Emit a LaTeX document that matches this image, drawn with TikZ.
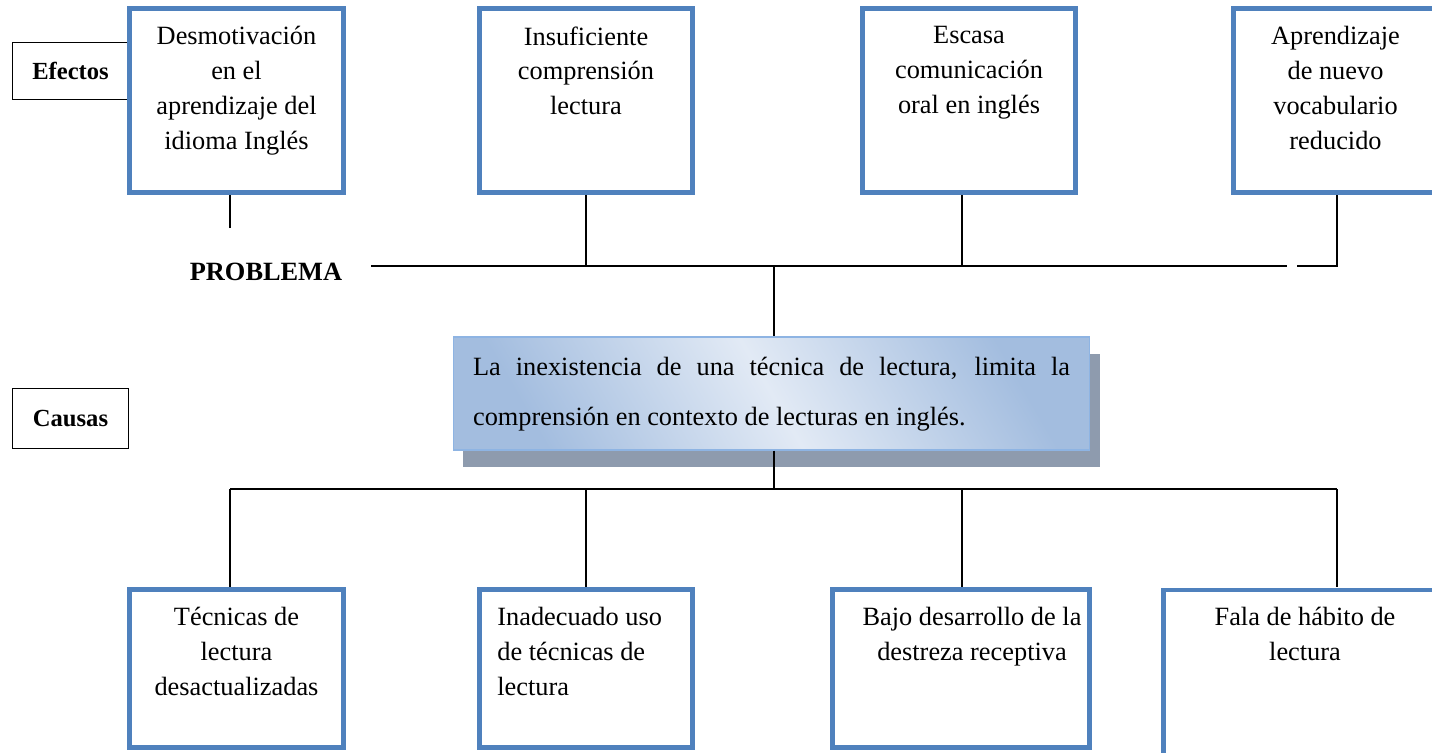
\documentclass[tikz,border=0pt]{standalone}
\usepackage{fontspec}
\setmainfont{Liberation Serif}
\usetikzlibrary{positioning,calc,shadows}

\definecolor{boxblue}{HTML}{4F81BD}
\definecolor{gradblue}{HTML}{A3BDDF}
\definecolor{gradlight}{HTML}{E2EAF5}
\definecolor{shadowgray}{HTML}{8E9BAE}
\definecolor{rimblue}{HTML}{8EB4E3}

\tikzset{
  bluebox/.style={draw=boxblue, line width=2.8pt, minimum width=4.28cm, minimum height=3.68cm, inner sep=0pt},
  causebox/.style={bluebox, minimum height=3.16cm},
  boxtext/.style={anchor=north, align=center, inner sep=0pt, yshift=-11.5pt, font=\fontsize{15}{19.8}\selectfont},
  tagbox/.style={draw, line width=0.8pt, minimum width=2.32cm, minimum height=1.14cm, font=\fontsize{14}{16}\selectfont\bfseries},
  link/.style={line width=0.6pt}
}

\begin{document}
\begin{tikzpicture}[x=0.02cm, y=-0.02cm]
  \useasboundingbox (0,0) rectangle (1432,753);
  \clip (0,0) rectangle (1432,753);

  % efectos
  \node[tagbox] (efectos) at (70.5,71) {Efectos};
  \node[bluebox] (ef1) at (236.5,100.5) {};
  \node[bluebox, minimum width=4.26cm] (ef2) at (586,100.5) {};
  \node[bluebox, minimum width=4.26cm] (ef3) at (969,100.5) {};
  \node[bluebox, minimum width=4.08cm] (ef4) at (1335.5,100.5) {};
  \node[boxtext] (t1) at (ef1.north) {Desmotivación\\en el\\aprendizaje del\\idioma Inglés};
  \node[boxtext] (t2) at (ef2.north) {Insuficiente\\comprensión\\lectura};
  \node[boxtext] (t3) at (ef3.north) {Escasa\\comunicación\\oral en inglés};
  \node[boxtext] (t4) at (ef4.north) {Aprendizaje\\de nuevo\\vocabulario\\reducido};

  % problema
  \node[font=\fontsize{15}{18}\selectfont\bfseries] (problema) at (266,272) {PROBLEMA};
  \coordinate (pl) at (371,266);
  \coordinate (gapl) at (1287,266);
  \coordinate (gapr) at (1297,266);
  \coordinate (j3) at (962,266);
  \coordinate (j4) at (1337,266);
  \coordinate (jc) at (774,266);
  \coordinate (s1) at (230,228);

  \draw[link] (s1) -- (s1 |- ef1.south);
  \draw[link] (pl) -- (gapl);
  \draw[link] (gapr) -- (j4) -- (j4 |- ef4.south);
  \draw[link] (ef2.south) -- (ef2.south |- pl);
  \draw[link] (j3) -- (j3 |- ef3.south);

  \node[draw=rimblue, line width=0.6pt, minimum width=12.74cm, minimum height=2.26cm,
        top color=gradblue, bottom color=gradblue, middle color=gradlight, shading angle=-60,
        drop shadow={shadow xshift=5.7pt, shadow yshift=-9.6pt, fill=shadowgray, opacity=1}]
        (prob) at (771.5,393.5) {};
  \node[text width=11.94cm, align=justify, inner sep=0pt, font=\fontsize{15}{28.3}\selectfont]
        (probtext) at (771.5,394) {La inexistencia de una técnica de lectura, limita la\linebreak comprensión en contexto de lecturas en inglés.};
  \draw[link] (jc) -- (jc |- prob.north);

  % causas
  \node[tagbox, minimum height=1.2cm] (causas) at (70.5,418.5) {Causas};
  \coordinate (cl) at (230,489);
  \coordinate (cr) at (1337,489);
  \draw[link] (jc |- prob.south) -- (jc |- cl);
  \draw[link] (cl) -- (cr);

  \node[causebox] (ca1) at (236.5,668.5) {};
  \node[causebox, minimum width=4.26cm] (ca2) at (586,668.5) {};
  \node[causebox, minimum width=5.14cm] (ca3) at (961,668.5) {};
  \node[causebox, minimum width=5.66cm, minimum height=3.6cm] (ca4) at (1305,680) {};
  \foreach \x in {230,586,962,1337}
    \draw[link] (\x,489) -- (\x,489 |- ca1.north);

  \node[boxtext] (c1) at (ca1.north) {Técnicas de\\lectura\\desactualizadas};
  \node[boxtext, anchor=north west, align=left] (c2) at (ca2.north west -| 497,0) {Inadecuado uso\\de técnicas de\\lectura};
  \node[boxtext] (c3) at (972,587) {Bajo desarrollo de la\\destreza receptiva};
  \node[boxtext] (c4) at (1305,587) {Fala de hábito de\\lectura};
\end{tikzpicture}
\end{document}
